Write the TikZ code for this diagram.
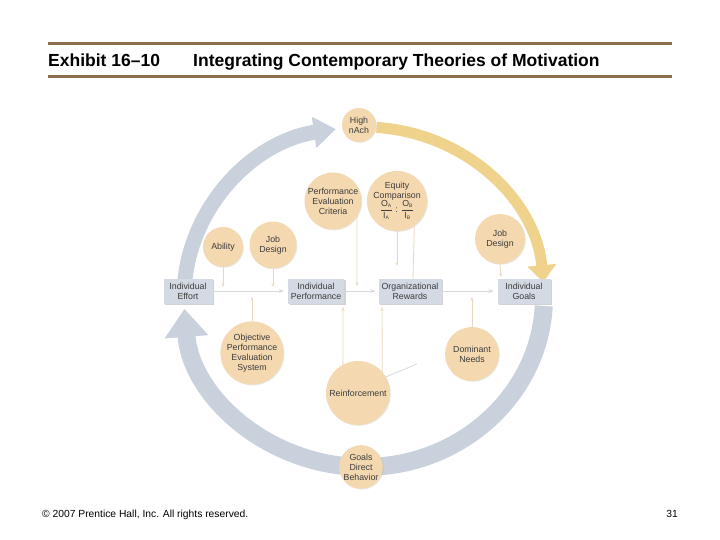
\documentclass[tikz,border=0pt]{standalone}
\usepackage{fontspec}
\setmainfont{Liberation Sans}
\usetikzlibrary{arrows.meta,shadows}
\definecolor{rulebrown}{HTML}{8C6E4B}
\definecolor{ringc}{HTML}{C8D1DC}
\definecolor{goldc}{HTML}{EFD38C}
\definecolor{peach}{HTML}{F4D9B0}
\definecolor{boxc}{HTML}{D3DAE3}
\definecolor{txt}{HTML}{3C3C3C}
\definecolor{hconn}{HTML}{D5DAE0}
\definecolor{vconn}{HTML}{EAD8BE}
\newcommand{\eqsub}[1]{\mbox{\fontsize{5}{6}\selectfont #1}}
\begin{document}
\begin{tikzpicture}[x=1pt,y=-1pt,
  circ/.style={circle, fill=peach, inner sep=0pt, minimum size=#1, text=txt, align=center,
    font=\fontsize{8.8}{10}\selectfont,
    drop shadow={opacity=0.18, shadow xshift=0.8pt, shadow yshift=-0.8pt}},
  boxn/.style={rectangle, fill=boxc, inner sep=0pt, minimum height=25pt, text=txt, align=center,
    font=\fontsize{8.8}{10}\selectfont,
    drop shadow={opacity=0.35, shadow xshift=1.5pt, shadow yshift=-1.5pt}},
  hconnector/.style={draw=hconn, line width=0.8pt, -{Stealth[length=5pt,width=4pt]}},
  vconnector/.style={draw=vconn, line width=0.8pt},
  vtip/.style={-{Stealth[length=4pt,width=3pt]}},
  titletext/.style={anchor=base west, inner sep=0pt, font=\bfseries\fontsize{17.5}{20}\selectfont},
  foot/.style={inner sep=0pt, font=\fontsize{10.3}{12}\selectfont}
]
\useasboundingbox (0,0) rectangle (720,540);
\fill[white] (0,0) rectangle (720,540);

% title
\draw[rulebrown, line width=3pt] (48,44) -- (672,44);
\draw[rulebrown, line width=3pt] (48,77) -- (672,77);
\node[titletext] (t1) at (48,67) {Exhibit 16--10};
\node[titletext] (t2) at (193,67) {Integrating Contemporary Theories of Motivation};

% ring arcs
\draw[ringc, line width=15pt, -{Triangle[width=30pt,length=22pt]}]
  ({364+180*cos(183)},{297+170*sin(183)}) arc[start angle=183, end angle=261, x radius=180, y radius=170];
\draw[goldc, line width=11pt, -{Triangle[width=28pt,length=17pt]}]
  ({364+180*cos(274)},{297+170*sin(274)}) arc[start angle=274, end angle=355, x radius=180, y radius=170];
\draw[ringc, line width=18pt, -{Triangle[width=42pt,length=28pt]}]
  ({364+180*cos(3)},{297+170*sin(3)}) arc[start angle=3, end angle=176, x radius=180, y radius=170];

% boxes
\node[boxn, minimum width=49pt] (effort) at (188,291) {Individual\\Effort};
\node[boxn, minimum width=56pt] (perf) at (316,291) {Individual\\Performance};
\node[boxn, minimum width=63pt] (rew) at (410,291) {Organizational\\Rewards};
\node[boxn, minimum width=53pt] (goals) at (524,291) {Individual\\Goals};

% circles
\node[circ=34pt] (nach) at (359,125) {High\\nAch};
\node[circ=57pt] (pec) at (333,201) {Performance\\Evaluation\\Criteria};
\node[circ=56pt] (equity) at (397,201) {Equity\\Comparison\\[-1pt]
  $\displaystyle\frac{\mbox{O}_{\eqsub{A}}}{\mbox{I}_{\eqsub{A}}}\mbox{ : }\frac{\mbox{O}_{\eqsub{B}}}{\mbox{I}_{\eqsub{B}}}$};
\node[circ=40pt] (ability) at (223,247) {Ability};
\node[circ=47pt] (jobl) at (273,245) {Job\\Design};
\node[circ=50pt] (jobr) at (500,239) {Job\\Design};
\node[circ=53pt] (opes) at (252,353) {Objective\\Performance\\Evaluation\\System};
\node[circ=54pt] (dom) at (472,354) {Dominant\\Needs};
\node[circ=64pt] (reinf) at (358,393) {Reinforcement};
\node[circ=40pt] (gdb) at (361,467) {Goals\\Direct\\Behavior};

% connectors
\draw[hconnector, shorten >=4pt] (effort.east) -- (perf.west);
\draw[hconnector, shorten >=3pt] (perf.east) -- (rew.west);
\draw[hconnector, shorten >=4pt] (rew.east) -- (goals.west);

\coordinate (pecE) at (357,286);
\coordinate (eqE1) at (397,266);
\coordinate (eqE2) at (413,278.5);
\coordinate (abE) at (223,287);
\coordinate (jlE) at (273,287);
\coordinate (opE) at (252,297);
\coordinate (reE1) at (343,307);
\coordinate (reE2) at (382,307);
\coordinate (reD) at (417,364);
\coordinate (domE) at (472,297);
\coordinate (jrE) at (501,277);

\draw[vconnector, vtip] (pec.-33) -- (pecE);
\draw[vconnector, vtip] (equity.south) -- (eqE1);
\draw[vconnector] (equity.-55) -- (eqE2);
\draw[vconnector, vtip] (ability.south) -- (abE);
\draw[vconnector, vtip] (jobl.south) -- (jlE);
\draw[vconnector, vtip] (opes.north) -- (opE);
\draw[vconnector, vtip] (reinf.118) -- (reE1);
\draw[vconnector, vtip] (reinf.41) -- (reE2);
\draw[draw=hconn, line width=0.8pt] (reinf.30) -- (reD);
\draw[vconnector, vtip] (dom.north) -- (domE);
\draw[vconnector, vtip] (jobr.south) -- (jrE);

% footer
\node[foot, anchor=base west] (copy) at (42,517) {\textcopyright{} 2007 Prentice Hall, Inc. All rights reserved.};
\node[foot, anchor=base east] (pg) at (678,517) {31};
\end{tikzpicture}
\end{document}
